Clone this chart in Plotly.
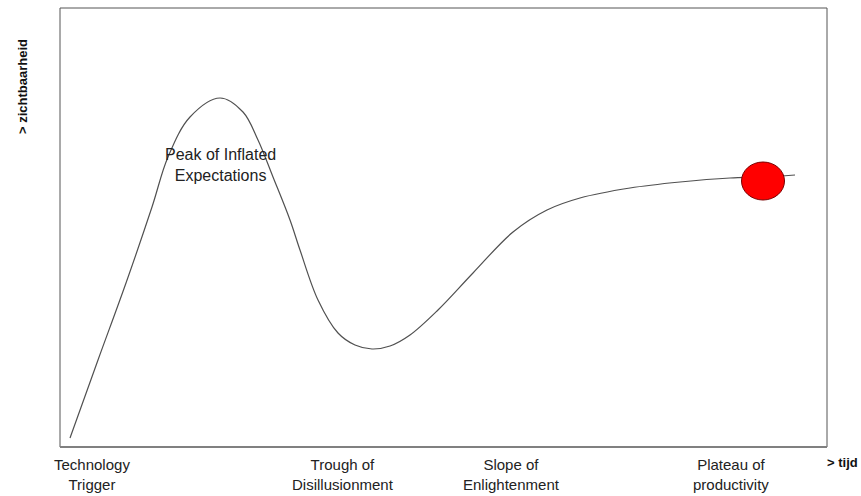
import plotly.graph_objects as go

# Hype cycle curve (time, visibility)
time_vals = [10, 38, 66, 92, 108, 130, 160, 183, 198, 213, 230, 240, 258, 278,
             295, 312, 330, 350, 378, 413, 453, 487, 520, 570, 620, 670, 703, 735]
visibility = [9, 87, 164, 240, 290, 330, 349, 335, 307, 270, 227, 197, 147, 114,
              102, 98, 101, 112, 137, 174, 215, 237, 249, 259, 265, 269, 270, 272]

# Current position marker
marker_time = 703
marker_visibility = 266

# Phase labels along the time axis
phase_names = ["Technology<br>Trigger", "Trough of<br>Disillusionment",
               "Slope of<br>Enlightenment", "Plateau of<br>productivity"]
phase_time = [32, 283, 451, 671]

peak_label = "Peak of Inflated<br>Expectations"
peak_time = 160
peak_visibility = 282

x_title = "> tijd"
y_title = "> zichtbaarheid"

X_MAX, Y_MAX = 767, 439

fig = go.Figure()
fig.add_trace(go.Scatter(
    x=time_vals, y=visibility, mode="lines",
    line=dict(color="#505050", width=1.2, shape="spline", smoothing=1.0),
    hoverinfo="skip", showlegend=False))

# red circle
rx, ry = 21.5, 19
fig.add_shape(type="circle", xref="x", yref="y",
              x0=marker_time - rx, x1=marker_time + rx,
              y0=marker_visibility - ry, y1=marker_visibility + ry,
              fillcolor="#ff0000", line=dict(color="#7a0000", width=1))

# frame
fig.add_shape(type="rect", xref="paper", yref="paper", x0=0, x1=1, y0=0, y1=1,
              line=dict(color="#555555", width=1), layer="above")
fig.add_shape(type="line", xref="paper", yref="paper", x0=0, x1=1, y0=0, y1=0,
              line=dict(color="#808080", width=2), layer="above")

font_reg = dict(family="Liberation Sans, Arial, sans-serif", size=15, color="#222222")
font_peak = dict(family="Liberation Sans, Arial, sans-serif", size=16, color="#222222")
font_bold = dict(family="Liberation Sans, Arial, sans-serif", size=13, color="#111111")

for name, t in zip(phase_names, phase_time):
    fig.add_annotation(x=t, y=-0.11, xref="x", yref="paper", text=name, showarrow=False,
                       font=font_reg, xanchor="center", yanchor="bottom")

fig.add_annotation(x=peak_time, y=peak_visibility, xref="x", yref="y", text=peak_label,
                   showarrow=False, font=font_peak, xanchor="center", yanchor="middle")

fig.add_annotation(x=1.0196, y=-0.036, xref="paper", yref="paper",
                   text="<b>" + x_title + "</b>",
                   showarrow=False, font=font_bold, xanchor="center", yanchor="middle")
fig.add_annotation(x=-0.0495, y=360, xref="paper", yref="y",
                   text="<b>" + y_title + "</b>",
                   showarrow=False, font=font_bold, textangle=-90,
                   xanchor="center", yanchor="middle")

fig.update_layout(
    width=861, height=496,
    margin=dict(l=60, r=34, t=8, b=49),
    paper_bgcolor="white", plot_bgcolor="white",
    xaxis=dict(range=[0, X_MAX], visible=False, fixedrange=True),
    yaxis=dict(range=[0, Y_MAX], visible=False, fixedrange=True),
    showlegend=False,
)

fig.write_html("out.html", config={"displayModeBar": False},
               post_script="document.body.style.margin='0';document.body.style.overflow='hidden';")
